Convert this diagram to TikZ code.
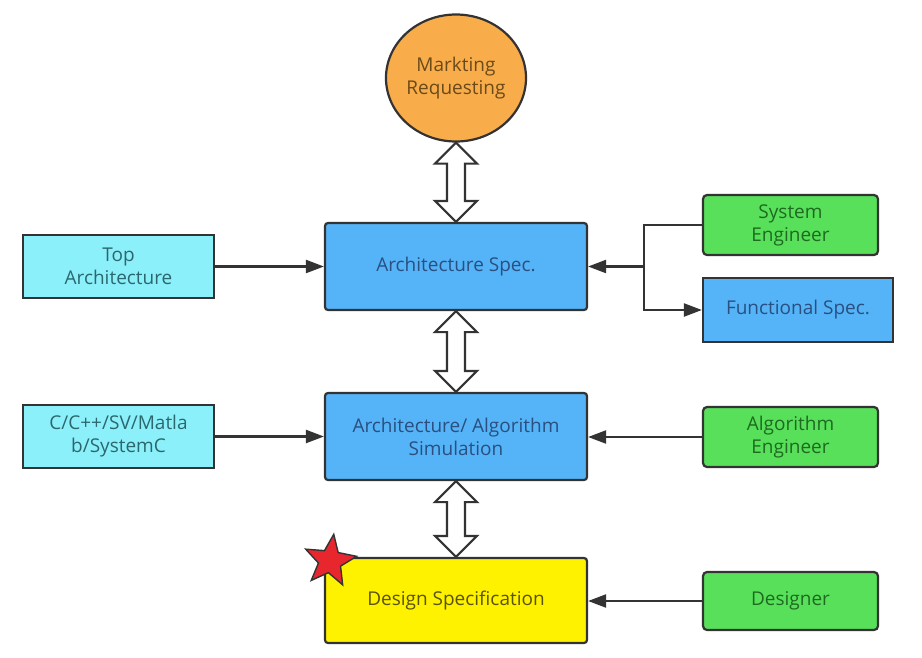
\documentclass[tikz,border=0pt]{standalone}
\usepackage{fontspec}
\setmainfont{Open Sans}
\usetikzlibrary{arrows.meta,shapes.geometric,calc}
\definecolor{orangef}{HTML}{F9AD4A}
\definecolor{bluef}{HTML}{55B4F8}
\definecolor{cyanf}{HTML}{8CF0FA}
\definecolor{greenf}{HTML}{58E05A}
\definecolor{yellowf}{HTML}{FFF200}
\definecolor{edge}{HTML}{333333}
\definecolor{bluet}{HTML}{2A4F80}
\definecolor{greent}{HTML}{1E6A20}
\definecolor{cyant}{HTML}{2A686E}
\definecolor{oranget}{HTML}{6B4A1A}
\definecolor{yellowt}{HTML}{5A5300}
\definecolor{starf}{HTML}{E8262E}
\tikzset{
  box/.style={draw=edge, line width=2.2pt, align=center, inner sep=2pt},
  bluebox/.style={box, fill=bluef, text=bluet, rounded corners=3pt},
  cyanbox/.style={box, fill=cyanf, text=cyant},
  greenbox/.style={box, fill=greenf, text=greent, rounded corners=4pt},
  conn/.style={draw=edge, line width=2.2pt, -{Triangle[length=18pt,width=13pt]}},
  dbl/.style={draw=edge, line width=2.2pt, fill=white, line join=miter},
}
\newcommand\dblarr[2]{\draw[dbl] let \p1=(#1.south), \p2=(#2.north), \n1={\y1-\y2-42pt} in
  (\p1) -- ++(21pt,-21pt) -- ++(-12pt,0pt) -- ++(0pt,-\n1) -- ++(12pt,0pt) -- (\p2)
  -- ++(-21pt,21pt) -- ++(12pt,0pt) -- ++(0pt,\n1) -- ++(-12pt,0pt) -- cycle;}
\begin{document}
\begin{tikzpicture}[x=1pt,y=-1pt,font=\fontsize{19}{23}\selectfont]
\useasboundingbox[fill=white] (0,0) rectangle (922,657);
% central column
\node[ellipse, draw=edge, line width=2.2pt, fill=orangef, text=oranget, align=center,
  minimum width=135pt, minimum height=127pt, inner sep=0pt] (mkt) at (456,78) {Markting\\Requesting};
\node[bluebox, minimum width=262pt, minimum height=87pt] (arch) at (456,266.5) {Architecture Spec.};
\node[bluebox, minimum width=262pt, minimum height=87pt] (sim) at (456,436.5) {Architecture/ Algorithm\\Simulation};
\node[box, fill=yellowf, text=yellowt, rounded corners=3pt, minimum width=262pt, minimum height=85pt] (design) at (456,600.5) {Design Specification};
% left column
\node[cyanbox, minimum width=191pt, minimum height=63pt] (top) at (118.5,266.5) {Top\\Architecture};
\node[cyanbox, minimum width=191pt, minimum height=63pt] (clang) at (118.5,436.5) {C/C++/SV/Matla\\b/SystemC};
% right column
\node[greenbox, minimum width=175pt, minimum height=60pt] (syseng) at (790.5,225) {System\\Engineer};
\node[box, fill=bluef, text=bluet, minimum width=190pt, minimum height=64pt] (func) at (798,310) {Functional Spec.};
\node[greenbox, minimum width=175pt, minimum height=60pt] (algeng) at (790.5,437) {Algorithm\\Engineer};
\node[greenbox, minimum width=175pt, minimum height=58pt] (designer) at (790.5,601) {Designer};
% double arrows
\dblarr{mkt}{arch}
\dblarr{arch}{sim}
\dblarr{sim}{design}
% connectors
\draw[conn] (top) -- (arch);
\draw[conn] (clang) -- (sim);
\coordinate (j) at (644,266.5);
\draw[conn] (syseng.west) -| (j) |- (func.west);
\draw[conn] (j) -- (arch.east);
\draw[conn] (algeng.west) -- (algeng.west -| sim.east);
\draw[conn] (designer.west) -- (designer.west -| design.east);
% star
\node[star, star points=5, star point ratio=2.3, draw=edge, line width=1.4pt, fill=starf,
  minimum size=54pt, inner sep=0pt, rotate=-8] (mark) at (330,561) {};
\end{tikzpicture}
\end{document}
